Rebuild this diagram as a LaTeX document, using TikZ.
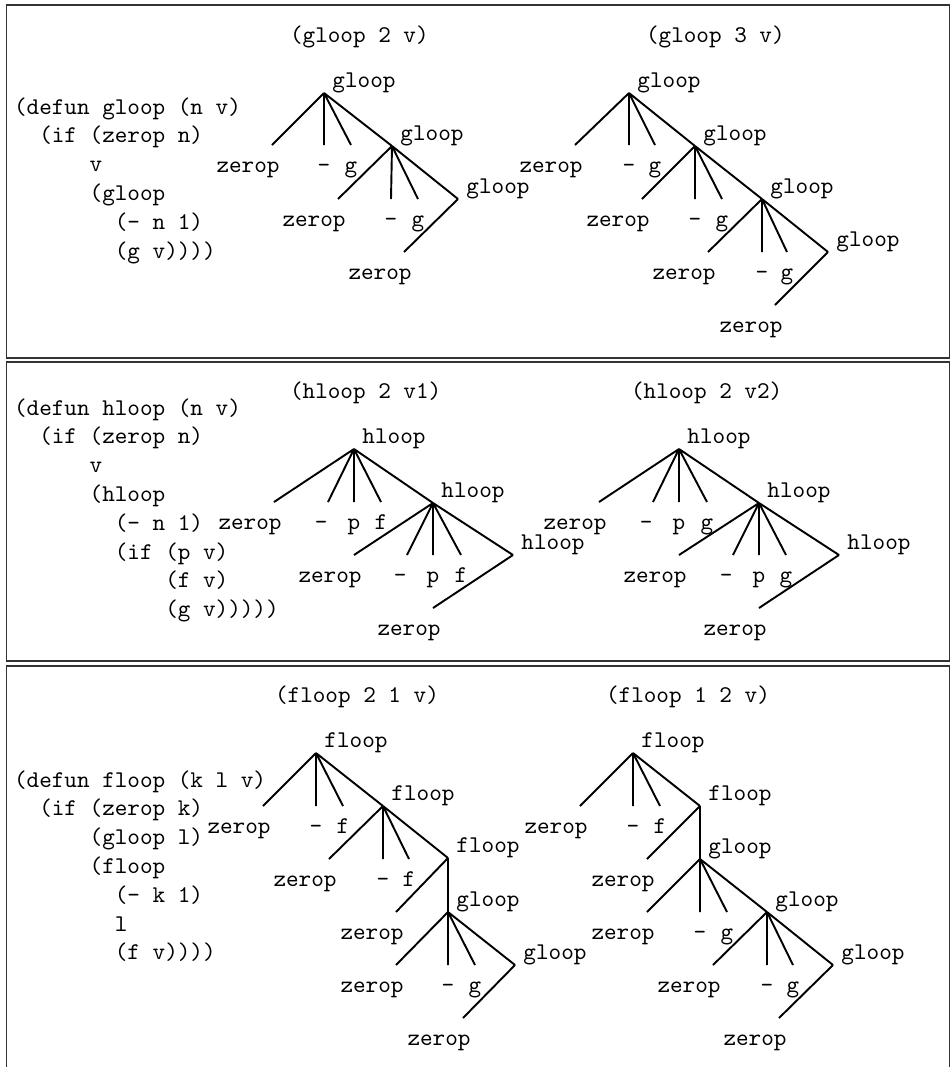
\documentclass[tikz,border=0pt]{standalone}
\usepackage{tikz}
\begin{document}
\begin{tikzpicture}[
    x=0.41667pt, y=-0.41667pt,
    frame/.style={draw=black!80, line width=0.8pt},
    branch/.style={line width=0.8pt},
    code/.style={font=\ttfamily, inner sep=0pt, anchor=base west},
    call/.style={font=\ttfamily, inner sep=0pt, anchor=base west},
    fn/.style={font=\ttfamily, inner xsep=3.33pt, inner ysep=0pt, anchor=south west},
    leaf/.style={font=\ttfamily, inner sep=0pt, text height=11.25pt, text depth=0pt, anchor=north},
    rleaf/.style={leaf, anchor=north east},
    zleaf/.style={leaf, anchor=north east, inner xsep=-3.33pt}
  ]
  \useasboundingbox (0,0) rectangle (952,1067);

  % frames
  \draw[frame] (6.5,5) rectangle (949.5,358);
  \draw[frame] (6.5,362) rectangle (949.5,661);
  \draw[frame] (6.5,1070) |- (949.5,666) -- (949.5,1070);

  % gloop definition
  \node[code] (gdef1) at (13.6,114) {(defun gloop (n v)};
  \node[code] (gdef2) at ([yshift=-12pt]gdef1.base west) {\hspace{10.5pt}(if (zerop n)};
  \node[code] (gdef3) at ([yshift=-12pt]gdef2.base west) {\hspace{31.5pt}v};
  \node[code] (gdef4) at ([yshift=-12pt]gdef3.base west) {\hspace{31.5pt}(gloop};
  \node[code] (gdef5) at ([yshift=-12pt]gdef4.base west) {\hspace{42pt}(- n 1)};
  \node[code] (gdef6) at ([yshift=-12pt]gdef5.base west) {\hspace{42pt}(g v))))};

  % (gloop 2 v)
  \node[call] (g2-call) at (289.6,42) {(gloop 2 v)};
  \node[fn] (g2a) at (324,93) {gloop};
  \node[zleaf] (g2a-z) at (272,145) {zerop};
  \node[leaf] (g2a-m) at (324,145) {-};
  \node[leaf] (g2a-g) at (351,145) {g};
  \node[fn] (g2b) at (392,146) {gloop};
  \node[zleaf] (g2b-z) at (338,199) {zerop};
  \node[leaf] (g2b-m) at (391,199) {-};
  \node[leaf] (g2b-g) at (418,199) {g};
  \node[fn] (g2c) at (458,199) {gloop};
  \node[zleaf] (g2c-z) at (404,252) {zerop};
  \draw[branch] (g2a.south west) -- (g2a-z.north east) (g2a.south west) -- (g2a-m.north) (g2a.south west) -- (g2a-g.north) (g2a.south west) -- (g2b.south west);
  \draw[branch] (g2b.south west) -- (g2b-z.north east) (g2b.south west) -- (g2b-m.north) (g2b.south west) -- (g2b-g.north) (g2b.south west) -- (g2c.south west);
  \draw[branch] (g2c.south west) -- (g2c-z.north east);

  % (gloop 3 v)
  \node[call] (g3-call) at (645.6,42) {(gloop 3 v)};
  \node[fn] (g3a) at (629,93) {gloop};
  \node[zleaf] (g3a-z) at (575,145) {zerop};
  \node[leaf] (g3a-m) at (629,145) {-};
  \node[leaf] (g3a-g) at (655,145) {g};
  \node[fn] (g3b) at (695,146) {gloop};
  \node[zleaf] (g3b-z) at (642,199) {zerop};
  \node[leaf] (g3b-m) at (695,199) {-};
  \node[leaf] (g3b-g) at (722,199) {g};
  \node[fn] (g3c) at (762,199) {gloop};
  \node[zleaf] (g3c-z) at (708,252) {zerop};
  \node[leaf] (g3c-m) at (762,252) {-};
  \node[leaf] (g3c-g) at (787,252) {g};
  \node[fn] (g3d) at (828,252) {gloop};
  \node[zleaf] (g3d-z) at (775,305) {zerop};
  \draw[branch] (g3a.south west) -- (g3a-z.north east) (g3a.south west) -- (g3a-m.north) (g3a.south west) -- (g3a-g.north) (g3a.south west) -- (g3b.south west);
  \draw[branch] (g3b.south west) -- (g3b-z.north east) (g3b.south west) -- (g3b-m.north) (g3b.south west) -- (g3b-g.north) (g3b.south west) -- (g3c.south west);
  \draw[branch] (g3c.south west) -- (g3c-z.north east) (g3c.south west) -- (g3c-m.north) (g3c.south west) -- (g3c-g.north) (g3c.south west) -- (g3d.south west);
  \draw[branch] (g3d.south west) -- (g3d-z.north east);

  % hloop definition
  \node[code] (hdef1) at (13.6,415) {(defun hloop (n v)};
  \node[code] (hdef2) at ([yshift=-12pt]hdef1.base west) {\hspace{10.5pt}(if (zerop n)};
  \node[code] (hdef3) at ([yshift=-12pt]hdef2.base west) {\hspace{31.5pt}v};
  \node[code] (hdef4) at ([yshift=-12pt]hdef3.base west) {\hspace{31.5pt}(hloop};
  \node[code] (hdef5) at ([yshift=-12pt]hdef4.base west) {\hspace{42pt}(- n 1)};
  \node[code] (hdef6) at ([yshift=-12pt]hdef5.base west) {\hspace{42pt}(if (p v)};
  \node[code] (hdef7) at ([yshift=-12pt]hdef6.base west) {\hspace{63pt}(f v)};
  \node[code] (hdef8) at ([yshift=-12pt]hdef7.base west) {\hspace{63pt}(g v)))))};

  % (hloop 2 v1)
  \node[call] (h1-call) at (289.6,398) {(hloop 2 v1)};
  \node[fn] (h1a) at (354,449) {hloop};
  \node[zleaf] (h1a-z) at (274,502) {zerop};
  \node[rleaf] (h1a-m) at (328,502) {-};
  \node[leaf] (h1a-p) at (354,502) {p};
  \node[leaf] (h1a-f) at (381,502) {f};
  \node[fn] (h1b) at (433,503) {hloop};
  \node[zleaf] (h1b-z) at (354,555) {zerop};
  \node[rleaf] (h1b-m) at (407,555) {-};
  \node[leaf] (h1b-p) at (433,555) {p};
  \node[leaf] (h1b-f) at (461,555) {f};
  \node[fn] (h1c) at (513,555) {hloop};
  \node[zleaf] (h1c-z) at (433,608) {zerop};
  \draw[branch] (h1a.south west) -- (h1a-z.north east) (h1a.south west) -- (h1a-m.north east) (h1a.south west) -- (h1a-p.north) (h1a.south west) -- (h1a-f.north) (h1a.south west) -- (h1b.south west);
  \draw[branch] (h1b.south west) -- (h1b-z.north east) (h1b.south west) -- (h1b-m.north east) (h1b.south west) -- (h1b-p.north) (h1b.south west) -- (h1b-f.north) (h1b.south west) -- (h1c.south west);
  \draw[branch] (h1c.south west) -- (h1c-z.north east);

  % (hloop 2 v2)
  \node[call] (h2-call) at (630.6,398) {(hloop 2 v2)};
  \node[fn] (h2a) at (679,449) {hloop};
  \node[zleaf] (h2a-z) at (599,502) {zerop};
  \node[rleaf] (h2a-m) at (653,502) {-};
  \node[leaf] (h2a-p) at (679,502) {p};
  \node[leaf] (h2a-g) at (707,502) {g};
  \node[fn] (h2b) at (759,503) {hloop};
  \node[zleaf] (h2b-z) at (679,555) {zerop};
  \node[rleaf] (h2b-m) at (733,555) {-};
  \node[leaf] (h2b-p) at (759,555) {p};
  \node[leaf] (h2b-g) at (786,555) {g};
  \node[fn] (h2c) at (839,555) {hloop};
  \node[zleaf] (h2c-z) at (759,608) {zerop};
  \draw[branch] (h2a.south west) -- (h2a-z.north east) (h2a.south west) -- (h2a-m.north east) (h2a.south west) -- (h2a-p.north) (h2a.south west) -- (h2a-g.north) (h2a.south west) -- (h2b.south west);
  \draw[branch] (h2b.south west) -- (h2b-z.north east) (h2b.south west) -- (h2b-m.north east) (h2b.south west) -- (h2b-p.north) (h2b.south west) -- (h2b-g.north) (h2b.south west) -- (h2c.south west);
  \draw[branch] (h2c.south west) -- (h2c-z.north east);

  % floop definition
  \node[code] (fdef1) at (13.6,787) {(defun floop (k l v)};
  \node[code] (fdef2) at ([yshift=-12pt]fdef1.base west) {\hspace{10.5pt}(if (zerop k)};
  \node[code] (fdef3) at ([yshift=-12pt]fdef2.base west) {\hspace{31.5pt}(gloop l)};
  \node[code] (fdef4) at ([yshift=-12pt]fdef3.base west) {\hspace{31.5pt}(floop};
  \node[code] (fdef5) at ([yshift=-12pt]fdef4.base west) {\hspace{42pt}(- k 1)};
  \node[code] (fdef6) at ([yshift=-12pt]fdef5.base west) {\hspace{42pt}l};
  \node[code] (fdef7) at ([yshift=-12pt]fdef6.base west) {\hspace{42pt}(f v))))};

  % (floop 2 1 v)
  \node[call] (f1-call) at (274.6,702) {(floop 2 1 v)};
  \node[fn] (f1a) at (316,753) {floop};
  \node[zleaf] (f1a-z) at (263,806) {zerop};
  \node[leaf] (f1a-m) at (316,806) {-};
  \node[leaf] (f1a-f) at (343,806) {f};
  \node[fn] (f1b) at (383,806) {floop};
  \node[zleaf] (f1b-z) at (329,859) {zerop};
  \node[leaf] (f1b-m) at (383,859) {-};
  \node[leaf] (f1b-f) at (409,859) {f};
  \node[fn] (f1c) at (448,858) {floop};
  \node[zleaf] (f1c-z) at (396,912) {zerop};
  \node[fn] (f1d) at (448,912) {gloop};
  \node[zleaf] (f1d-z) at (396,965) {zerop};
  \node[leaf] (f1d-m) at (448,965) {-};
  \node[leaf] (f1d-g) at (475,965) {g};
  \node[fn] (f1e) at (515,965) {gloop};
  \node[zleaf] (f1e-z) at (463,1018) {zerop};
  \draw[branch] (f1a.south west) -- (f1a-z.north east) (f1a.south west) -- (f1a-m.north) (f1a.south west) -- (f1a-f.north) (f1a.south west) -- (f1b.south west);
  \draw[branch] (f1b.south west) -- (f1b-z.north east) (f1b.south west) -- (f1b-m.north) (f1b.south west) -- (f1b-f.north) (f1b.south west) -- (f1c.south west);
  \draw[branch] (f1c.south west) -- (f1c-z.north east) (f1c.south west) -- (f1d.south west);
  \draw[branch] (f1d.south west) -- (f1d-z.north east) (f1d.south west) -- (f1d-m.north) (f1d.south west) -- (f1d-g.north) (f1d.south west) -- (f1e.south west);
  \draw[branch] (f1e.south west) -- (f1e-z.north east);

  % (floop 1 2 v)
  \node[call] (f2-call) at (605.6,702) {(floop 1 2 v)};
  \node[fn] (f2a) at (633,753) {floop};
  \node[zleaf] (f2a-z) at (580,806) {zerop};
  \node[leaf] (f2a-m) at (633,806) {-};
  \node[leaf] (f2a-f) at (660,806) {f};
  \node[fn] (f2b) at (700,806) {floop};
  \node[zleaf] (f2b-z) at (647,859) {zerop};
  \node[fn] (f2c) at (700,859) {gloop};
  \node[zleaf] (f2c-z) at (647,912) {zerop};
  \node[leaf] (f2c-m) at (700,912) {-};
  \node[leaf] (f2c-g) at (727,912) {g};
  \node[fn] (f2d) at (767,912) {gloop};
  \node[zleaf] (f2d-z) at (713,965) {zerop};
  \node[leaf] (f2d-m) at (767,965) {-};
  \node[leaf] (f2d-g) at (793,965) {g};
  \node[fn] (f2e) at (833,965) {gloop};
  \node[zleaf] (f2e-z) at (779,1018) {zerop};
  \draw[branch] (f2a.south west) -- (f2a-z.north east) (f2a.south west) -- (f2a-m.north) (f2a.south west) -- (f2a-f.north) (f2a.south west) -- (f2b.south west);
  \draw[branch] (f2b.south west) -- (f2b-z.north east) (f2b.south west) -- (f2c.south west);
  \draw[branch] (f2c.south west) -- (f2c-z.north east) (f2c.south west) -- (f2c-m.north) (f2c.south west) -- (f2c-g.north) (f2c.south west) -- (f2d.south west);
  \draw[branch] (f2d.south west) -- (f2d-z.north east) (f2d.south west) -- (f2d-m.north) (f2d.south west) -- (f2d-g.north) (f2d.south west) -- (f2e.south west);
  \draw[branch] (f2e.south west) -- (f2e-z.north east);
\end{tikzpicture}
\end{document}
